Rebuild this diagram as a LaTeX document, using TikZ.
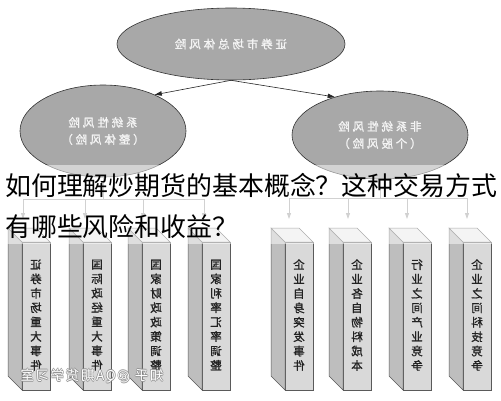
\documentclass[tikz,border=0pt]{standalone}
\usepackage{fontspec}
\usepackage{graphicx}
\setmainfont{Noto Sans CJK SC}
\newfontfamily\cjksp[LetterSpace=25,FakeBold=1.2]{Noto Sans CJK SC}
\newfontfamily\cjkbold[FakeBold=1.2]{Noto Sans CJK SC}
\newfontfamily\cjkwm[LetterSpace=12]{Noto Sans CJK SC}
\usetikzlibrary{shapes.geometric,arrows.meta,calc}
\definecolor{ellfill}{HTML}{A8A8A8}
\definecolor{elltext}{HTML}{F4F4F4}
\definecolor{frontc}{HTML}{D9D9D9}
\definecolor{sidec}{HTML}{BEBEBE}
\definecolor{topc}{HTML}{E9E9E9}
\definecolor{edgec}{HTML}{5A5A5A}
\definecolor{treec}{HTML}{A4A4A4}
\definecolor{boxtext}{HTML}{222222}
\makeatletter
\def\vchars#1{\vchars@a#1\@nil}
\def\vchars@a#1#2\@nil{\reflectbox{#1}\ifx\relax#2\relax\expandafter\@gobble\else\expandafter\@firstofone\fi{\\\vchars@a#2\@nil}}
\makeatother
\newcommand\cuboid[3]{%
  \node[frontface, anchor=north west] (#1) at (#2,242) {};
  \filldraw[fill=sidec, draw=edgec, line width=0.5pt] (#1.north west) -- (#1.south west) -- ++(-14,-14) -- ($(#1.north west)+(-14,-14)$) -- cycle;
  \filldraw[fill=topc, draw=edgec, line width=0.5pt] (#1.north west) -- (#1.north east) -- ++(-14,-14) -- ($(#1.north west)+(-14,-14)$) -- cycle;
  \node[boxlabel] (#1t) at ($(#1.center)+(0,-1)$) {\vchars{#3}};
}
\newcommand\wmtext{知乎 @QA期货学习室}
\begin{document}
\begin{tikzpicture}[x=1pt,y=-1pt,
  ell/.style={ellipse, draw=black!80, line width=0.6pt, fill=ellfill, inner sep=0pt,
    text=elltext, align=center, font=\cjksp\fontsize{11.5}{17}\selectfont},
  frontface/.style={draw=edgec, line width=0.5pt, fill=frontc, minimum width=28pt,
    minimum height=148pt, inner sep=0pt, outer sep=0pt},
  boxlabel/.style={text=boxtext, align=center, inner sep=0pt, font=\cjkbold\fontsize{11.5}{14.4}\selectfont},
  toparrow/.style={draw=black!85, line width=0.6pt, -{Triangle[length=7pt,width=4.5pt]}},
  tree/.style={draw=treec, line width=0.8pt},
  treearrow/.style={tree, -{Triangle[length=6pt,width=4pt,fill=treec]}},
  titletext/.style={anchor=base west, inner sep=0pt, text=black, font=\fontsize{25.9}{30}\selectfont}
]
\useasboundingbox (0,0) rectangle (501,400);
\fill[white] (0,0) rectangle (501,400);

% ellipses
\node[ell, minimum width=228pt, minimum height=72pt] (top) at (231,44) {\reflectbox{证券市场总体风险}};
\node[ell, minimum width=166pt, minimum height=92pt] (left) at (103,131) {\reflectbox{系统性风险}\\\reflectbox{（整体风险）}};
\node[ell, minimum width=176pt, minimum height=88pt] (right) at (380,135) {\reflectbox{非系统性风险}\\\reflectbox{（个股风险）}};

\draw[toparrow] (top.south) -- (left.35);
\draw[toparrow] (top.south) -- (right.140);

% boxes
\cuboid{bL1}{22}{证券市场重大事件}
\cuboid{bL2}{83}{国际政经重大事件}
\cuboid{bL3}{142}{国家财政政策调整}
\cuboid{bL4}{202}{国家利率汇率调整}
\cuboid{bR1}{285}{企业自身突发事件}
\cuboid{bR2}{343}{企业各自物料成本}
\cuboid{bR3}{403}{行业之间产业竞争}
\cuboid{bR4}{463}{企业之间科技竞争}

% tree connectors
\coordinate (lm) at (103,199);
\coordinate (l1) at (23,199); \coordinate (l2) at (85,199);
\coordinate (l3) at (143,199); \coordinate (l4) at (204,199);
\coordinate (la1) at (23,219); \coordinate (la2) at (85,219);
\coordinate (la3) at (143,219); \coordinate (la4) at (204,219);
\draw[tree] (left.south) -- (lm);
\draw[tree] (l1) -- (l4);
\foreach \i in {1,2,3,4} {\draw[treearrow] (l\i) -- (la\i);}

\coordinate (rm) at (380,198);
\coordinate (r1) at (289,198); \coordinate (r2) at (348,198);
\coordinate (r3) at (407,198); \coordinate (r4) at (467,198);
\coordinate (ra1) at (289,219); \coordinate (ra2) at (348,219);
\coordinate (ra3) at (407,219); \coordinate (ra4) at (467,219);
\draw[tree] (right.south) -- (rm);
\draw[tree] (r1) -- (r4);
\foreach \i in {1,2,3,4} {\draw[treearrow] (r\i) -- (ra\i);}

% title band and title
\fill[white, opacity=0.5] (0,165) rectangle (501,244);
\node[titletext] (title1) at (5,195) {如何理解炒期货的基本概念？这种交易方式};
\node[titletext] (title2) at (5,236) {有哪些风险和收益？};

% watermark
\node[inner sep=0pt, font=\cjkwm\fontsize{13.5}{15}\selectfont] (wm) at (92,376)
  {\reflectbox{\rlap{\color{gray!85}\kern0.7pt \wmtext}\rlap{\color{gray!85}\kern-0.7pt \wmtext}\rlap{\color{gray!85}\raisebox{0.7pt}{\wmtext}}\rlap{\color{gray!85}\raisebox{-0.7pt}{\wmtext}}\color{white}\wmtext}};
\end{tikzpicture}
\end{document}
